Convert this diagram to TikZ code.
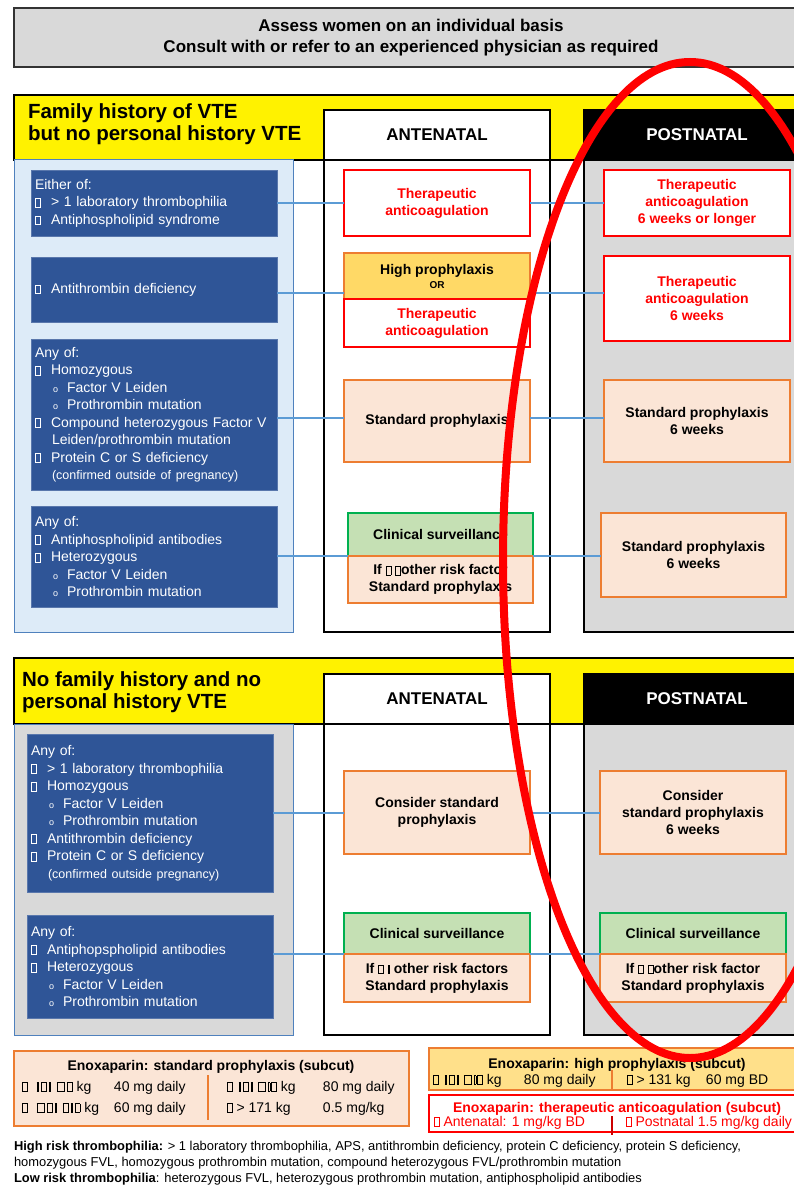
\documentclass[tikz,border=0pt]{standalone}
\usepackage{fontspec}
\setmainfont{Liberation Sans}
\usetikzlibrary{positioning}

\definecolor{vteblue}{HTML}{2F5597}
\definecolor{paleblue}{HTML}{DDEBF8}
\definecolor{panelgray}{HTML}{D9D9D9}
\definecolor{panelline}{HTML}{4F81BD}
\definecolor{peach}{HTML}{FBE5D6}
\definecolor{orangeline}{HTML}{ED7D31}
\definecolor{mint}{HTML}{C5E0B4}
\definecolor{greenline}{HTML}{00B050}
\definecolor{gold}{HTML}{FFD966}
\definecolor{goldlight}{HTML}{FFE08A}
\definecolor{linkblue}{HTML}{5B9BD5}

% glyphs the source font did not have
\newcommand{\nogl}{{\fboxsep=0pt\fboxrule=0.6pt\fbox{\rule{0pt}{8pt}\hspace{4.5pt}}}}
\newcommand{\noglt}{{\fboxsep=0pt\fboxrule=0.6pt\fbox{\rule{0pt}{8pt}\hspace{1pt}}}}
\newcommand{\noglw}{{\fboxsep=0pt\fboxrule=0.6pt\fbox{\rule{0pt}{8pt}\hspace{7pt}}}}
\newcommand{\bul}{\makebox[16pt][l]{\nogl}}
\newcommand{\subul}{\hspace*{18pt}\makebox[14pt][l]{\fontsize{9}{9}\selectfont o}}
\newcommand{\cont}{\hspace*{17pt}}
\newcommand{\dosefont}{\fontsize{14}{17}\selectfont}
\newcommand{\garbA}{\nogl\hspace{9pt}\noglt\hspace{2pt}\nogl\hspace{2pt}\noglt\hspace{6pt}\noglw\hspace{2pt}\nogl\hspace{4pt}}
\newcommand{\garbB}{\nogl\hspace{9pt}\noglw\hspace{2pt}\nogl\hspace{2pt}\noglt\hspace{6pt}\nogl\hspace{2pt}\noglt\hspace{2pt}\nogl\hspace{4pt}}
\newcommand{\garbC}{\nogl\hspace{6pt}\noglt\hspace{2pt}\nogl\hspace{2pt}\noglt\hspace{5pt}\noglw\hspace{2pt}\noglt\hspace{1pt}\nogl\hspace{4pt}}

\begin{document}
\begin{tikzpicture}[x=1pt, y=-1pt,
  every node/.style={inner sep=0pt, outer sep=0pt},
  bluebox/.style={anchor=north west, fill=vteblue, draw=vteblue!80!white, text=white,
    align=left, inner xsep=4pt, text width=238pt, font=\fontsize{14}{17.5}\selectfont},
  carebox/.style={anchor=north west, align=center, minimum width=186pt, line width=1.2pt,
    font=\fontsize{14}{17}\selectfont\bfseries},
  redbox/.style={carebox, fill=white, draw=red, text=red},
  peachbox/.style={carebox, fill=peach, draw=orangeline},
  goldbox/.style={carebox, fill=gold, draw=orangeline},
  greenbox/.style={carebox, fill=mint, draw=greenline},
  band/.style={anchor=north west, fill=yellow, draw=black, line width=1.2pt,
    minimum width=796pt, minimum height=65pt},
  colhead/.style={anchor=north west, draw=black, line width=1.5pt, minimum width=226pt,
    minimum height=50pt, font=\fontsize{17}{20}\selectfont\bfseries},
  antcol/.style={anchor=north west, fill=white, draw=black, line width=1.5pt, minimum width=226pt},
  postcol/.style={anchor=north west, fill=panelgray, draw=black, line width=1.5pt, minimum width=226pt},
  panel/.style={anchor=north west, draw=panelline, line width=1pt, minimum width=279pt},
  heading/.style={anchor=west, align=left, font=\fontsize{20.5}{22.5}\selectfont\bfseries},
  link/.style={draw=linkblue, line width=1.8pt},
  dose/.style={anchor=base west, font=\dosefont},
  foot/.style={anchor=base west, font=\fontsize{12.9}{16}\selectfont},
]
\clip (0,0) rectangle (794,1185);
\fill[white] (0,0) rectangle (794,1185);

% top note
\node[anchor=north west, fill=panelgray, draw=black!80, line width=1.2pt, minimum width=794pt,
  minimum height=59pt, align=center, font=\fontsize{17}{21}\selectfont\bfseries] (note) at (14,8)
  {Assess women on an individual basis\\Consult with or refer to an experienced physician as required};

% ---- family history of VTE ----
\node[band] (band1) at (14,95) {};
\node[heading] (fam1) at (28,124) {Family history of VTE\\but no personal history VTE};
\node[colhead, fill=white] (ant1) at (324,110) {ANTENATAL};
\node[colhead, fill=black, text=white] (post1) at (584,110) {POSTNATAL};
\node[antcol, minimum height=472pt] (antcol1) at (324,160) {};
\node[postcol, minimum height=472pt] (postcol1) at (584,160) {};
\node[panel, fill=paleblue, minimum height=472pt] (risk1) at (14,160) {};

\node[bluebox, minimum height=66pt] (b1) at (31,170)
  {Either of:\\\bul> 1 laboratory thrombophilia\\\bul Antiphospholipid syndrome};
\node[bluebox, minimum height=65pt] (b2) at (31,257) {\bul Antithrombin deficiency};
\node[bluebox, minimum height=151pt] (b3) at (31,339)
  {Any of:\\\bul Homozygous\\\subul Factor V Leiden\\\subul Prothrombin mutation\\
   \bul Compound heterozygous Factor V\\\cont Leiden/prothrombin mutation\\
   \bul Protein C or S deficiency\\\cont{\fontsize{12.5}{15}\selectfont(confirmed outside of pregnancy)}};
\node[bluebox, minimum height=101pt] (b4) at (31,506)
  {Any of:\\\bul Antiphospholipid antibodies\\\bul Heterozygous\\\subul Factor V Leiden\\\subul Prothrombin mutation};

\node[redbox, minimum height=66pt] (a1) at (344,170) {Therapeutic\\anticoagulation};
\node[goldbox, minimum height=46pt, text=black] (ahi) at (344,253)
  {High prophylaxis\\[-3pt]{\fontsize{10}{11}\selectfont OR}};
\node[redbox, minimum height=48pt, below=0pt of ahi] (a2) {Therapeutic\\anticoagulation};
\node[peachbox, minimum height=82pt] (a3) at (344,380) {Standard prophylaxis};
\node[greenbox, minimum width=185pt, minimum height=43pt] (g4) at (348,513) {Clinical surveillance};
\node[peachbox, minimum width=185pt, minimum height=47pt, below=0pt of g4] (a4)
  {If \nogl\ \nogl other risk factor\\Standard prophylaxis};

\node[redbox, minimum height=66pt] (p1) at (604,170) {Therapeutic\\anticoagulation\\6 weeks or longer};
\node[redbox, minimum height=85pt] (p2) at (604,256) {Therapeutic\\anticoagulation\\6 weeks};
\node[peachbox, minimum height=82pt] (p3) at (604,380) {Standard prophylaxis\\6 weeks};
\node[peachbox, minimum width=185pt, minimum height=84pt] (p4) at (601,513) {Standard prophylaxis\\6 weeks};

\coordinate (r1) at (0,203);
\coordinate (r2) at (0,293);
\coordinate (r3) at (0,418);
\coordinate (r4) at (0,556);
\draw[link] (b1.east |- r1) -- (a1.west |- r1);
\draw[link] (a1.east |- r1) -- (p1.west |- r1);
\draw[link] (b2.east |- r2) -- (ahi.west |- r2);
\draw[link] (ahi.east |- r2) -- (p2.west |- r2);
\draw[link] (b3.east |- r3) -- (a3.west |- r3);
\draw[link] (a3.east |- r3) -- (p3.west |- r3);
\draw[link] (b4.east |- r4) -- (g4.west |- r4);
\draw[link] (g4.east |- r4) -- (p4.west |- r4);

% ---- no family history ----
\node[band, minimum height=66pt] (band2) at (14,658) {};
\node[heading] (fam2) at (22,692) {No family history and no\\personal history VTE};
\node[colhead, fill=white] (ant2) at (324,674) {ANTENATAL};
\node[colhead, fill=black, text=white] (post2) at (584,674) {POSTNATAL};
\node[antcol, minimum height=311pt] (antcol2) at (324,724) {};
\node[postcol, minimum height=311pt] (postcol2) at (584,724) {};
\node[panel, fill=panelgray, minimum height=311pt] (risk2) at (14,724) {};

\node[bluebox, minimum height=158pt] (b5) at (27,734)
  {Any of:\\\bul> 1 laboratory thrombophilia\\\bul Homozygous\\\subul Factor V Leiden\\
   \subul Prothrombin mutation\\\bul Antithrombin deficiency\\\bul Protein C or S deficiency\\
   \cont{\fontsize{12.5}{15}\selectfont(confirmed outside pregnancy)}};
\node[bluebox, minimum height=103pt] (b6) at (27,915)
  {Any of:\\\bul Antiphopspholipid antibodies\\\bul Heterozygous\\\subul Factor V Leiden\\\subul Prothrombin mutation};

\node[peachbox, minimum height=83pt] (a5) at (344,771) {Consider standard\\prophylaxis};
\node[greenbox, minimum height=41pt] (g6) at (344,913) {Clinical surveillance};
\node[peachbox, minimum height=48pt, below=0pt of g6] (a6)
  {If \nogl\ \noglt\ other risk factors\\Standard prophylaxis};

\node[peachbox, minimum height=83pt] (p5) at (600,771) {Consider\\standard prophylaxis\\6 weeks};
\node[greenbox, minimum height=41pt] (pg6) at (600,913) {Clinical surveillance};
\node[peachbox, minimum height=48pt, below=0pt of pg6] (p6)
  {If \nogl\ \nogl other risk factor\\Standard prophylaxis};

\coordinate (r5) at (0,813);
\coordinate (r6) at (0,954);
\draw[link] (b5.east |- r5) -- (a5.west |- r5);
\draw[link] (a5.east |- r5) -- (p5.west |- r5);
\draw[link] (b6.east |- r6) -- (g6.west |- r6);
\draw[link] (g6.east |- r6) -- (pg6.west |- r6);

% ---- enoxaparin doses ----
\node[anchor=north west, fill=peach, draw=orangeline, line width=1.5pt, minimum width=395pt,
  minimum height=75pt] (stdbox) at (14,1051) {};
\node[anchor=base, font=\dosefont\bfseries] (stdtitle) at (211,1070) {Enoxaparin: standard prophylaxis (subcut)};
\node[dose] (std1) at (22,1091) {\makebox[92pt][l]{\garbA kg}40 mg daily};
\node[dose] (std2) at (22,1112) {\makebox[92pt][l]{\garbB kg}60 mg daily};
\node[dose] (std3) at (227,1091) {\makebox[96pt][l]{\garbC kg}80 mg daily};
\node[dose] (std4) at (227,1112) {\makebox[96pt][l]{\nogl\ > 171 kg}0.5 mg/kg};
\draw[orangeline, line width=2pt] (208,1075) -- (208,1120);

\node[anchor=north west, fill=goldlight, draw=orangeline, line width=1.5pt, minimum width=380pt,
  minimum height=42pt] (hibox) at (429,1048) {};
\node[anchor=base, font=\dosefont\bfseries] (hititle) at (617,1068) {Enoxaparin: high prophylaxis (subcut)};
\node[dose] (hi1) at (433,1084) {\makebox[91pt][l]{\garbC kg}80 mg daily};
\node[dose] (hi2) at (627,1084) {\makebox[79pt][l]{\nogl\ > 131 kg}60 mg BD};
\draw[orangeline, line width=1.5pt] (612,1070) -- (612,1089);

\node[anchor=north west, fill=white, draw=red, line width=1.5pt, minimum width=380pt,
  minimum height=37pt] (thbox) at (429,1095) {};
\node[anchor=base, font=\dosefont\bfseries, text=red] (thtitle) at (617,1112) {Enoxaparin: therapeutic anticoagulation (subcut)};
\node[dose, text=red] (th1) at (434,1126) {\nogl\ Antenatal: 1 mg/kg BD};
\node[dose, text=red] (th2) at (626,1126) {\nogl\ Postnatal 1.5 mg/kg daily};
\draw[red!80!black, line width=1.5pt] (612,1116) -- (612,1135);

% ---- footnote ----
\node[foot] (fn1) at (14,1150) {\textbf{High risk thrombophilia:} > 1 laboratory thrombophilia, APS, antithrombin deficiency, protein C deficiency, protein S deficiency,};
\node[foot] (fn2) at (14,1166) {homozygous FVL, homozygous prothrombin mutation, compound heterozygous FVL/prothrombin mutation};
\node[foot] (fn3) at (14,1182) {\textbf{Low risk thrombophilia}: heterozygous FVL, heterozygous prothrombin mutation, antiphospholipid antibodies};

% hand-drawn ring over the postnatal column
\draw[red, line width=8pt] (690,560) ellipse [x radius=187, y radius=498];
\end{tikzpicture}
\end{document}
